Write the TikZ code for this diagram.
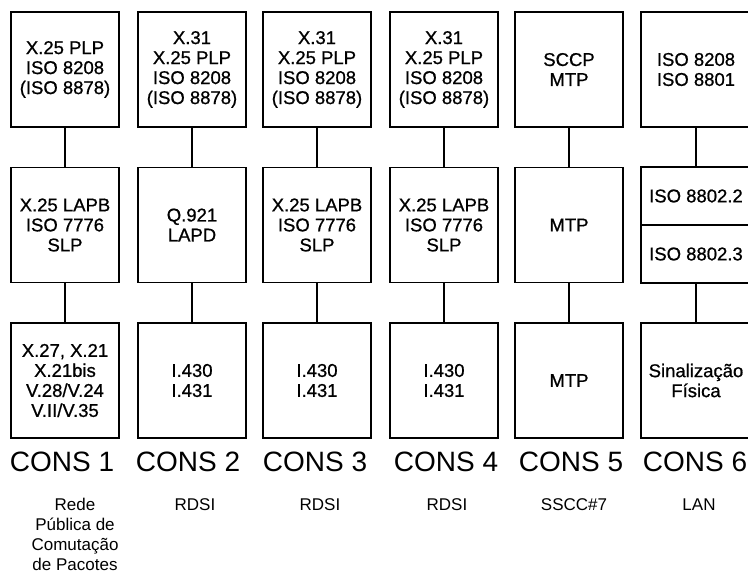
\documentclass[tikz,border=0pt]{standalone}
\usepackage{fontspec}
\setmainfont{Liberation Sans}
\newfontfamily\boxfont[FakeBold=0.8]{Liberation Sans}
\begin{document}
\begin{tikzpicture}[x=1pt,y=-1pt,
  box/.style={draw,line width=1.3pt,minimum width=108pt,minimum height=115pt,inner sep=0pt,align=center,font=\boxfont\fontsize{18.5}{20}\selectfont},
  widebox/.style={box,minimum width=110pt},
  halfbox/.style={box,minimum width=110pt,minimum height=58pt},
  link/.style={line width=1.3pt},
  cons/.style={font=\fontsize{28}{30}\selectfont},
  net/.style={align=center,font=\fontsize{17}{20}\selectfont}]
\useasboundingbox (0,0) rectangle (748,574);
\clip (0,0) rectangle (748,574);
% row 1
\node[box] (a1) at (65,69.5) {X.25 PLP\\ISO 8208\\(ISO 8878)};
\node[box] (b1) at (192,69.5) {X.31\\X.25 PLP\\ISO 8208\\(ISO 8878)};
\node[box] (c1) at (317,69.5) {X.31\\X.25 PLP\\ISO 8208\\(ISO 8878)};
\node[box] (d1) at (444,69.5) {X.31\\X.25 PLP\\ISO 8208\\(ISO 8878)};
\node[box] (e1) at (569,69.5) {SCCP\\MTP};
\node[widebox] (f1) at (696,69.5) {ISO 8208\\ISO 8801};
% row 2
\node[box] (a2) at (65,225) {X.25 LAPB\\ISO 7776\\SLP};
\node[box] (b2) at (192,225) {Q.921\\LAPD};
\node[box] (c2) at (317,225) {X.25 LAPB\\ISO 7776\\SLP};
\node[box] (d2) at (444,225) {X.25 LAPB\\ISO 7776\\SLP};
\node[box] (e2) at (569,225) {MTP};
\node[halfbox] (f2a) at (696,196) {ISO 8802.2};
\node[halfbox] (f2b) at (696,254) {ISO 8802.3};
% row 3
\node[box] (a3) at (65,380.5) {X.27, X.21\\X.21bis\\V.28/V.24\\V.II/V.35};
\node[box] (b3) at (192,380.5) {I.430\\I.431};
\node[box] (c3) at (317,380.5) {I.430\\I.431};
\node[box] (d3) at (444,380.5) {I.430\\I.431};
\node[box] (e3) at (569,380.5) {MTP};
\node[widebox] (f3) at (696,380.5) {Sinalização\\Física};
% connectors
\draw[link] (a1) -- (a2); \draw[link] (a2) -- (a3);
\draw[link] (b1) -- (b2); \draw[link] (b2) -- (b3);
\draw[link] (c1) -- (c2); \draw[link] (c2) -- (c3);
\draw[link] (d1) -- (d2); \draw[link] (d2) -- (d3);
\draw[link] (e1) -- (e2); \draw[link] (e2) -- (e3);
\draw[link] (f1) -- (f2a); \draw[link] (f2b) -- (f3);
% labels
\node[cons] (l1) at (62,462) {CONS 1};
\node[cons] (l2) at (188,462) {CONS 2};
\node[cons] (l3) at (315,462) {CONS 3};
\node[cons] (l4) at (446,462) {CONS 4};
\node[cons] (l5) at (571,462) {CONS 5};
\node[cons] (l6) at (695,462) {CONS 6};
\node[net] (n1) at (75,534) {Rede\\Pública de\\Comutação\\de Pacotes};
\node[net] (n2) at (195,505) {RDSI};
\node[net] (n3) at (320,505) {RDSI};
\node[net] (n4) at (447,505) {RDSI};
\node[net] (n5) at (574,505) {SSCC\#7};
\node[net] (n6) at (699,505) {LAN};
\end{tikzpicture}
\end{document}
